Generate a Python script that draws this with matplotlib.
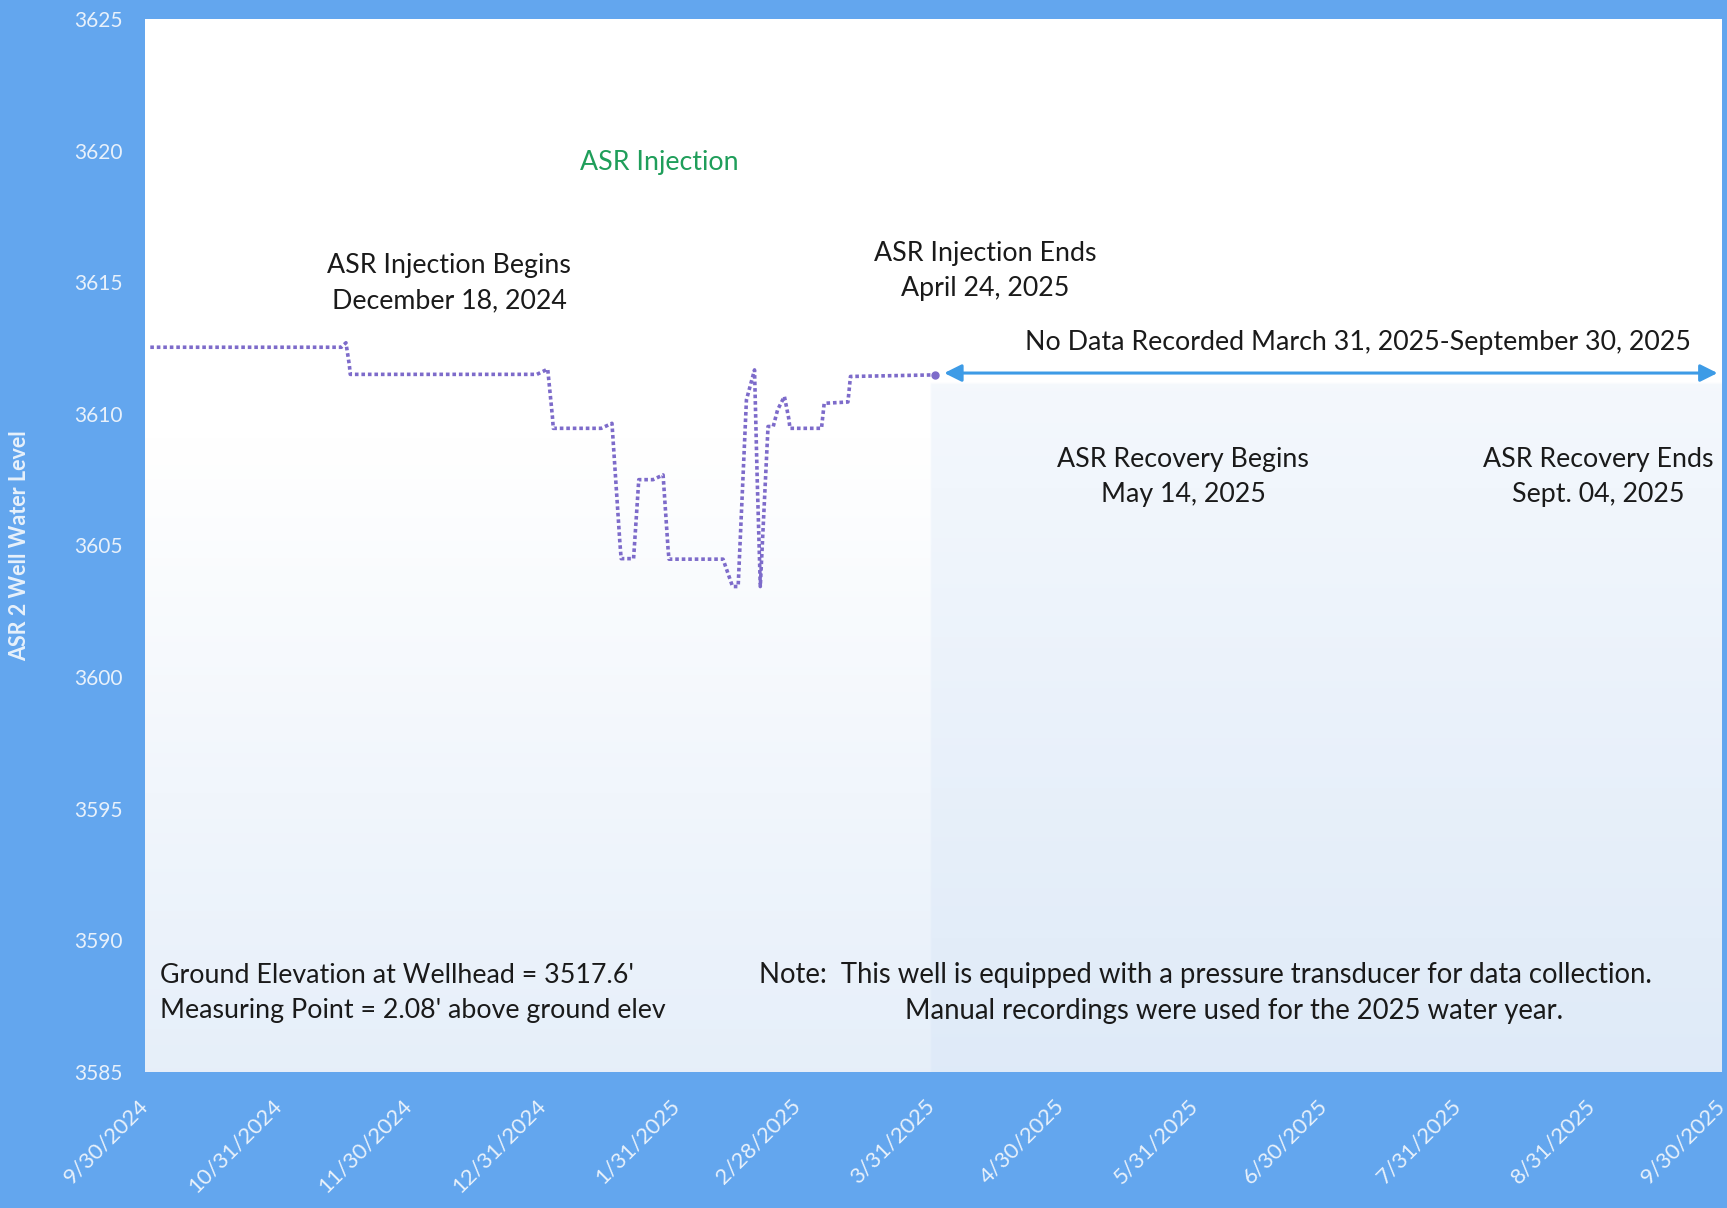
import numpy as np
import pandas as pd
import matplotlib
matplotlib.use("Agg")
import matplotlib.pyplot as plt

# Lecturas del nivel de agua del pozo ASR 2
fechas = ['2024-10-01 05:00', '2024-11-14 10:00', '2024-11-15 12:00', '2024-11-16 07:00',
          '2024-11-16 12:00', '2024-12-29 17:00', '2025-01-01 05:00', '2025-01-02 07:00',
          '2025-01-02 12:00', '2025-01-13 14:00', '2025-01-16 02:00', '2025-01-17 22:00',
          '2025-01-18 05:00', '2025-01-21 02:00', '2025-01-22 07:00', '2025-01-25 14:00',
          '2025-01-27 22:00', '2025-01-29 02:00', '2025-01-29 07:00', '2025-02-10 19:00',
          '2025-02-13 00:00', '2025-02-14 07:00', '2025-02-16 05:00', '2025-02-18 02:00',
          '2025-02-18 17:00', '2025-02-19 10:00', '2025-02-21 05:00', '2025-02-22 10:00',
          '2025-02-23 10:00', '2025-02-25 00:00', '2025-02-26 00:00', '2025-02-26 07:00',
          '2025-03-05 14:00', '2025-03-06 05:00', '2025-03-11 17:00', '2025-03-12 07:00',
          '2025-03-31 19:00']
niveles = [3612.53, 3612.53, 3612.70, 3611.85,
           3611.50, 3611.50, 3611.70, 3609.90,
           3609.45, 3609.45, 3609.64, 3605.10,
           3604.50, 3604.50, 3607.50, 3607.50,
           3607.68, 3604.83, 3604.48, 3604.48,
           3603.44, 3603.44, 3610.53, 3611.67,
           3607.49, 3603.44, 3609.52, 3609.52,
           3610.15, 3610.66, 3609.83, 3609.45,
           3609.45, 3610.40, 3610.45, 3611.42,
           3611.48]

ticks_x = ['2024-09-30', '2024-10-31', '2024-11-30', '2024-12-31', '2025-01-31', '2025-02-28',
           '2025-03-31', '2025-04-30', '2025-05-31', '2025-06-30', '2025-07-31', '2025-08-31',
           '2025-09-30']
ticks_y = [3585, 3590, 3595, 3600, 3605, 3610, 3615, 3620, 3625]

fechas = pd.to_datetime(fechas)
ticks_x = pd.to_datetime(ticks_x)

azul_fondo = '#63a6ee'
blanco_ticks = '#e8f1fb'
morado = '#7d6bca'
plt.rcParams['font.family'] = ['Lato', 'DejaVu Sans']

fig = plt.figure(figsize=(17.27, 12.08), dpi=100, facecolor=azul_fondo)
ax = fig.add_axes([0.084, 0.1126, 0.913, 0.8717])

# Fondo del area de trazado con degradado (blanco arriba, azul claro abajo)
H, W = 300, 600
yy = np.linspace(1, 0, H)[:, None] * np.ones((1, W))
xx = np.ones((H, 1)) * np.linspace(0, 1, W)[None, :]
t = np.clip((0.6 - yy) / 0.6, 0, 1) * 0.7
derecha = (xx > 0.4986) & (yy < 0.655)
t = np.where(derecha, 0.3 + 0.6 * np.clip((0.655 - yy) / 0.655, 0, 1), t)
blanco = np.array([1.0, 1.0, 1.0])
celeste = np.array([0.86, 0.91, 0.97])
img = blanco[None, None, :] * (1 - t[..., None]) + celeste[None, None, :] * t[..., None]
ax.imshow(img, extent=[0, 1, 0, 1], transform=ax.transAxes, aspect='auto', zorder=0)

ax.plot(fechas, niveles, color=morado, linestyle=(0, (1, 0.8)), linewidth=2.6, zorder=3)
ax.plot(fechas[-1:], niveles[-1:], 'o', color=morado, markersize=5, zorder=3)

ax.set_xlim(ticks_x[0], ticks_x[-1])
ax.set_ylim(3585, 3625)
ax.set_xticks(ticks_x)
ax.set_xticklabels([f'{d.month}/{d.day}/{d.year}' for d in ticks_x], rotation=45,
                   ha='right', va='center', rotation_mode='anchor', fontsize=16, color=blanco_ticks)
ax.set_yticks(ticks_y)
ax.set_yticklabels([str(v) for v in ticks_y], fontsize=15, color=blanco_ticks)
ax.tick_params(axis='both', length=0)
ax.tick_params(axis='y', pad=16)
ax.tick_params(axis='x', pad=22)
for s in ax.spines.values():
    s.set_visible(False)

ax.set_ylabel('ASR 2 Well Water Level', fontsize=15.5, fontweight='bold', color=blanco_ticks)
ax.yaxis.set_label_coords(-0.073, 0.5)

# Flecha de "sin datos"
ax.annotate('', xy=(pd.Timestamp('2025-09-29'), 3611.55), xytext=(pd.Timestamp('2025-04-03'), 3611.55),
            arrowprops=dict(arrowstyle='<|-|>', color='#3d9be6', lw=2.2, mutation_scale=26,
                            shrinkA=0, shrinkB=0), zorder=4)

negro = '#1a1a1a'
fs = 19.3
ls = 1.5
ax.text(pd.Timestamp('2025-01-27'), 3619.53, 'ASR Injection', color='#1f9e5a', fontsize=fs,
        ha='center', va='center')
ax.text(pd.Timestamp('2024-12-09 10:00'), 3614.97, 'ASR Injection Begins\nDecember 18, 2024',
        color=negro, fontsize=fs, ha='center', va='center', linespacing=ls)
ax.text(pd.Timestamp('2025-04-12 14:00'), 3615.43, 'ASR Injection Ends\nApril 24, 2025',
        color=negro, fontsize=fs, ha='center', va='center', linespacing=ls)
ax.text(pd.Timestamp('2025-07-07 20:00'), 3612.71, 'No Data Recorded March 31, 2025-September 30, 2025',
        color=negro, fontsize=fs, ha='center', va='center')
ax.text(pd.Timestamp('2025-05-28 07:00'), 3607.6, 'ASR Recovery Begins\nMay 14, 2025',
        color=negro, fontsize=fs, ha='center', va='center', linespacing=ls)
ax.text(pd.Timestamp('2025-09-01 07:00'), 3607.6, 'ASR Recovery Ends\nSept. 04, 2025',
        color=negro, fontsize=fs, ha='center', va='center', linespacing=ls)
ax.text(pd.Timestamp('2024-10-03 12:00'), 3588.0,
        "Ground Elevation at Wellhead = 3517.6'\nMeasuring Point = 2.08' above ground elev",
        color=negro, fontsize=fs, ha='left', va='center', linespacing=ls)
ax.text(pd.Timestamp('2025-02-19 02:00'), 3588.69,
        'Note:  This well is equipped with a pressure transducer for data collection.',
        color=negro, fontsize=19.8, ha='left', va='center')
ax.text(pd.Timestamp('2025-03-25'), 3587.32,
        'Manual recordings were used for the 2025 water year.',
        color=negro, fontsize=19.8, ha='left', va='center')

fig.savefig('out.png', dpi=100, facecolor=azul_fondo)
